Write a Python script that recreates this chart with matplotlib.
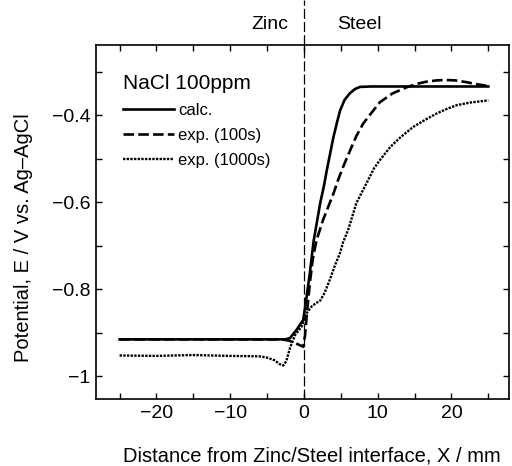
import numpy as np
import matplotlib
matplotlib.use('Agg')
import matplotlib.pyplot as plt
from matplotlib.ticker import MultipleLocator, FixedLocator

plt.rcParams['font.family'] = ['Liberation Sans', 'DejaVu Sans']

# curva calcolata
x_calc = [-25, -10, -2.5, -1.9, -1.0, -0.1, 0.36, 0.8, 1.3, 1.7, 2.2, 2.7, 3.1, 3.5,
          4.0, 4.5, 4.9, 5.5, 6.2, 6.9, 7.6, 9, 25]
y_calc = [-0.915, -0.915, -0.915, -0.912, -0.893, -0.870, -0.817, -0.762, -0.690, -0.651,
          -0.602, -0.563, -0.526, -0.492, -0.450, -0.415, -0.389, -0.365, -0.350, -0.340,
          -0.335, -0.334, -0.334]

# sperimentale 100 s
x_100 = [-25, -10, -3, -2, -1, -0.1, 0.15, 0.4, 0.8, 1.2, 1.7, 2.6, 3.3, 4.0, 4.6, 5.3,
         6.2, 7.1, 8.0, 8.9, 10.3, 12, 13.9, 15.3, 16.6, 18, 19.1, 20.5, 22, 23.5, 25]
y_100 = [-0.915, -0.915, -0.915, -0.918, -0.925, -0.932, -0.905, -0.855, -0.785, -0.730,
         -0.687, -0.640, -0.610, -0.580, -0.550, -0.519, -0.483, -0.448, -0.420, -0.400,
         -0.370, -0.350, -0.336, -0.328, -0.323, -0.320, -0.319, -0.320, -0.324, -0.329,
         -0.333]

# sperimentale 1000 s
x_1000 = [-25, -20, -15, -10, -6, -5, -4, -3.3, -2.8, -2.4, -1.9, -1.2, -0.3, 0.36, 1.0,
          1.6, 2.2, 2.8, 3.5, 4.2, 4.9, 5.3, 6.0, 7.1, 8.7, 9.5, 10.3, 11.7, 13, 14.8,
          16.5, 18, 19.3, 20.7, 22.5, 25]
y_1000 = [-0.952, -0.953, -0.951, -0.953, -0.954, -0.957, -0.963, -0.972, -0.975, -0.965,
          -0.935, -0.905, -0.885, -0.855, -0.840, -0.832, -0.826, -0.808, -0.778, -0.745,
          -0.716, -0.692, -0.663, -0.602, -0.549, -0.522, -0.503, -0.473, -0.452, -0.427,
          -0.410, -0.396, -0.386, -0.377, -0.371, -0.366]

ytick_vals = [-1, -0.8, -0.6, -0.4]
ytick_labels = ['\u22121', '\u22120.8', '\u22120.6', '\u22120.4']

fig = plt.figure(figsize=(5.12, 4.66), dpi=100)
ax = fig.add_axes([96/512, 1-399/466, 413/512, (399-44.7)/466])

ax.plot(x_calc, y_calc, color='black', lw=1.9, label='calc.')
ax.plot(x_100, y_100, color='black', lw=1.9, linestyle=(0, (4, 1.6)), label='exp. (100s)')
ax.plot(x_1000, y_1000, color='black', lw=1.7, linestyle=(0, (1.0, 0.55)), label='exp. (1000s)')

# linea di interfaccia
ax.axvline(0, ymin=0, ymax=1 + 44.7/354.3, color='black', lw=0.9,
           linestyle=(0, (8, 2.5)), clip_on=False)

ax.set_xlim(-28.2, 27.8)
ax.set_ylim(-1.052, -0.238)

ax.xaxis.set_major_locator(MultipleLocator(10))
ax.xaxis.set_minor_locator(MultipleLocator(5))
ax.xaxis.set_major_formatter(plt.FuncFormatter(lambda v, p: f'{v:.0f}'.replace('-', '\u2212')))
ax.yaxis.set_major_locator(FixedLocator(ytick_vals))
ax.set_yticklabels(ytick_labels)
ax.yaxis.set_minor_locator(MultipleLocator(0.1))
ax.tick_params(which='both', direction='in', length=4, width=1, top=True, right=True,
               labelsize=14, pad=4)

ax.set_xlabel('Distance from Zinc/Steel interface, X / mm', fontsize=14.5)
ax.set_ylabel('Potential, E / V vs. Ag\u2013AgCl', fontsize=14.5)
ax.xaxis.set_label_coords(0.523, -0.133)
ax.yaxis.set_label_coords(-0.152, 0.455)

ax.text(-4.7, 1.058, 'Zinc', transform=ax.get_xaxis_transform(), ha='center', va='center', fontsize=14)
ax.text(7.45, 1.058, 'Steel', transform=ax.get_xaxis_transform(), ha='center', va='center', fontsize=14)

leg = ax.legend(loc='upper left', bbox_to_anchor=(0.065, 0.917), frameon=False,
                title='NaCl 100ppm', title_fontsize=15, fontsize=12, alignment='left',
                handlelength=3.05, handletextpad=0.25, labelspacing=0.6, borderaxespad=0,
                borderpad=0)

for sp in ax.spines.values():
    sp.set_linewidth(1.2)

fig.savefig('out.png', dpi=100)
